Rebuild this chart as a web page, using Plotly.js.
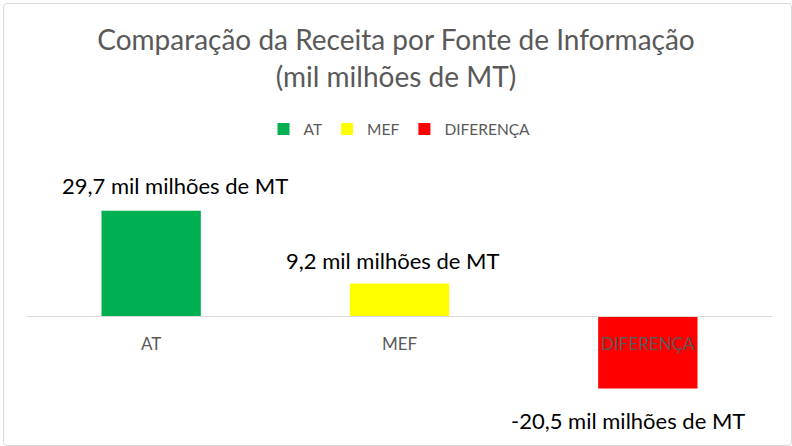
<!DOCTYPE html>
<html>
<head>
<meta charset="utf-8">
<script src="https://cdn.plot.ly/plotly-3.0.1.min.js"></script>
<style>
html,body{margin:0;padding:0;background:#fff;}
#chart{width:792px;height:446px;}
#frame{position:absolute;left:3px;top:3px;width:787px;height:441px;border:1px solid #d9d9d9;border-radius:4px;pointer-events:none;}
</style>
</head>
<body>
<div id="chart"></div>
<div id="frame"></div>
<script>
const categories = ['AT', 'MEF', 'DIFERENÇA'];
const values = [29.7, 9.2, -20.5];
const colors = ['#00b050', '#ffff00', '#ff0000'];
const labelTexts = ['29,7 mil milhões de MT', '9,2 mil milhões de MT', '-20,5 mil milhões de MT'];

const FONT = 'Lato, "Open Sans", sans-serif';
const labelShiftX = [24, -7, -20];
const labelShiftY = [25, 23, -32];

const traces = categories.map((c, i) => ({
  type: 'bar',
  name: c,
  x: [c],
  y: [values[i]],
  width: 0.4,
  marker: {color: colors[i]},
  hoverinfo: 'skip'
}));

const annotations = categories.map((c, i) => ({
  x: c,
  y: values[i],
  xref: 'x',
  yref: 'y',
  text: labelTexts[i],
  showarrow: false,
  xanchor: 'center',
  yanchor: 'middle',
  xshift: labelShiftX[i],
  yshift: labelShiftY[i],
  font: {family: FONT, size: 22, color: '#000000'}
}));

const mTop = 150, mBottom = 16, zeroY = 316, pxPerUnit = 3.54;
const plotH = 446 - mTop - mBottom;
const yMax = (zeroY - mTop) / pxPerUnit;
const yMin = -(446 - mBottom - zeroY) / pxPerUnit;

const layout = {
  width: 792,
  height: 446,
  margin: {l: 27, r: 20, t: mTop, b: mBottom},
  paper_bgcolor: '#ffffff',
  plot_bgcolor: '#ffffff',
  title: {
    text: 'Comparação da Receita por Fonte de Informação<br>(mil milhões de MT)',
    font: {family: FONT, size: 28, color: '#595959'},
    x: 0.5,
    xanchor: 'center',
    y: 0.887,
    yanchor: 'middle'
  },
  barmode: 'relative',
  showlegend: true,
  legend: {
    orientation: 'h',
    x: 0.5,
    xanchor: 'center',
    y: 0.71,
    yref: 'container',
    yanchor: 'middle',
    font: {family: FONT, size: 15.5, color: '#595959'},
    traceorder: 'normal'
  },
  xaxis: {
    type: 'category',
    anchor: 'free',
    position: (446 - mBottom - zeroY) / plotH,
    showline: true,
    linecolor: '#d9d9d9',
    linewidth: 1,
    showgrid: false,
    zeroline: false,
    ticks: '',
    ticklabelstandoff: 13,
    tickfont: {family: FONT, size: 17, color: '#595959'},
    fixedrange: true
  },
  yaxis: {
    range: [yMin, yMax],
    visible: false,
    showgrid: false,
    zeroline: false,
    fixedrange: true
  },
  annotations: annotations
};

Plotly.newPlot('chart', traces, layout, {displayModeBar: false, staticPlot: true});
</script>
</body>
</html>
